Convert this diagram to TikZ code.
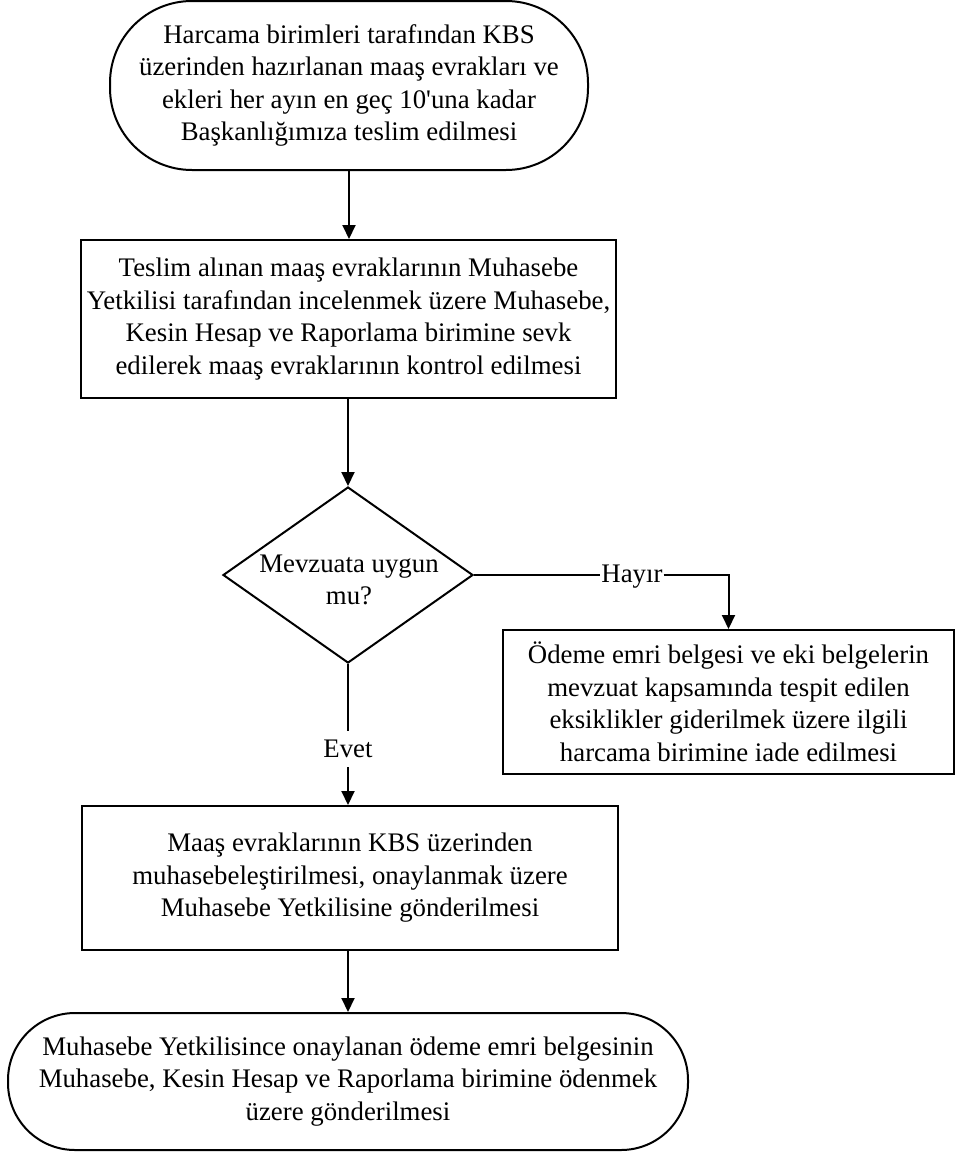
\documentclass[tikz,border=0pt]{standalone}
\usepackage{fontspec}
\setmainfont{Liberation Serif}
\usetikzlibrary{shapes.geometric,arrows.meta}
\begin{document}
\begin{tikzpicture}[x=1pt,y=-1pt,
  every node/.style={font=\fontsize{26.8}{32.5}\selectfont, align=center},
  box/.style={draw, line width=2pt, inner sep=0pt},
  term/.style={draw, line width=2pt, inner sep=0pt},
  arr/.style={line width=2pt, -{Triangle[width=13pt,length=14pt]}},
  ln/.style={line width=2pt}]
\useasboundingbox (0,0) rectangle (960,1162);

\node[term, rounded corners=82pt, minimum width=478pt, minimum height=169pt] (t1) at (349,85.5)
  {Harcama birimleri tarafından KBS\\üzerinden hazırlanan maaş evrakları ve\\ekleri her ayın en geç 10\textquotesingle una kadar\\Başkanlığımıza teslim edilmesi};

\node[box, minimum width=535pt, minimum height=158pt] (b1) at (348.5,319)
  {Teslim alınan maaş evraklarının Muhasebe\\Yetkilisi tarafından incelenmek üzere Muhasebe,\\Kesin Hesap ve Raporlama birimine sevk\\edilerek maaş evraklarının kontrol edilmesi};

\node[diamond, draw, line width=2pt, inner sep=0pt, minimum width=250pt, minimum height=176pt] (d) at (348,575) {};
\node (dt) at (349,580) {Mevzuata uygun\\mu?};

\node[box, minimum width=451pt, minimum height=144pt] (b2) at (728.5,702)
  {Ödeme emri belgesi ve eki belgelerin\\mevzuat kapsamında tespit edilen\\eksiklikler giderilmek üzere ilgili\\harcama birimine iade edilmesi};

\node[box, minimum width=536pt, minimum height=144pt] (b3) at (350,878)
  {Maaş evraklarının KBS üzerinden\\muhasebeleştirilmesi, onaylanmak üzere\\Muhasebe Yetkilisine gönderilmesi};

\node[term, rounded corners=67pt, minimum width=680pt, minimum height=137pt] (t2) at (348,1081.5)
  {Muhasebe Yetkilisince onaylanan ödeme emri belgesinin\\Muhasebe, Kesin Hesap ve Raporlama birimine ödenmek\\üzere gönderilmesi};

\node[fill=white, inner sep=1pt] (hy) at (632,577) {Hayır};
\node[inner sep=9pt] (ev) at (348,749.3) {Evet};

\draw[arr] (t1.south) -- (t1.south |- b1.north);
\draw[arr] (b1.south -| d.north) -- (d.north);
\draw[ln] (d.east) -- (d.east -| hy.west);
\draw[arr] (d.east -| hy.east) -| (b2.north);
\draw[ln] (d.south) -- (ev.north);
\draw[arr] (ev.south) -- (ev.south |- b3.north);
\draw[arr] (b3.south -| t2.north) -- (t2.north);
\end{tikzpicture}
\end{document}
